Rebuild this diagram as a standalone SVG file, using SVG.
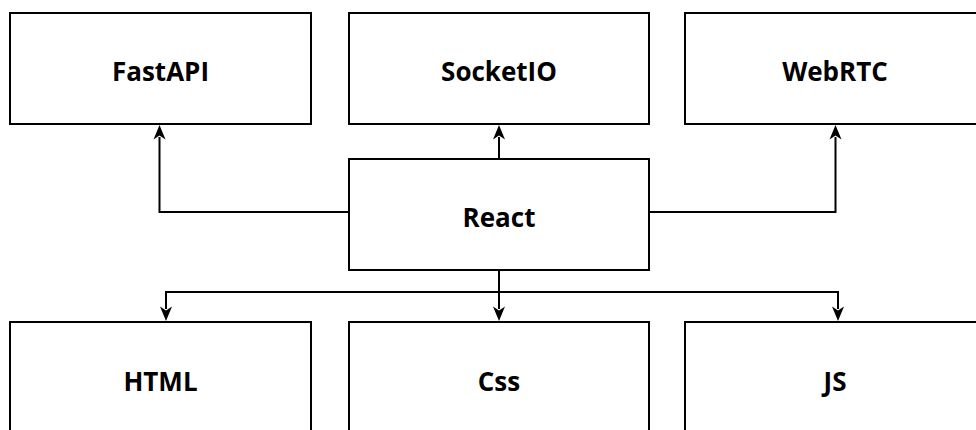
<svg xmlns="http://www.w3.org/2000/svg" width="976" height="430" viewBox="0 0 976 430">
  <style>
    .box { fill: #ffffff; stroke: #000000; stroke-width: 2; }
    .label { font-family: "Open Sans", "Liberation Sans", sans-serif; font-weight: 700; font-size: 26px; fill: #000000; text-anchor: middle; }
    .link { fill: none; stroke: #000000; stroke-width: 2; marker-end: url(#arrow); }
    .trunk { fill: none; stroke: #000000; stroke-width: 2; }
  </style>
  <defs>
    <!-- notched arrowhead; the line stops at the notch, the tip sits 12px ahead -->
    <marker id="arrow" markerUnits="userSpaceOnUse" viewBox="-4 -8 17 16" refX="0" refY="0" markerWidth="17" markerHeight="16" orient="auto">
      <path d="M12,0 L-2.5,-6 L1.5,0 L-2.5,6 Z" fill="#000000"/>
    </marker>
  </defs>

  <g id="connectors">
    <!-- React to the top row -->
    <path class="link" d="M349,212 H159.5 V137"/>
    <path class="link" d="M499,159 V137"/>
    <path class="link" d="M649,212 H835.5 V137"/>
    <!-- React to the bottom row -->
    <path class="trunk" d="M499,270 V292"/>
    <path class="link" d="M499,292 H166 V309"/>
    <path class="link" d="M499,292 V309"/>
    <path class="link" d="M499,292 H838 V309"/>
  </g>

  <g id="node-fastapi">
    <rect class="box" x="10" y="13" width="301" height="111"/>
    <text class="label" x="160.5" y="81">FastAPI</text>
  </g>
  <g id="node-socketio">
    <rect class="box" x="349" y="13" width="300" height="111"/>
    <text class="label" x="499" y="81">SocketIO</text>
  </g>
  <g id="node-webrtc">
    <rect class="box" x="685" y="13" width="300" height="111"/>
    <text class="label" x="835" y="81">WebRTC</text>
  </g>
  <g id="node-react">
    <rect class="box" x="349" y="159" width="300" height="111"/>
    <text class="label" x="499" y="227">React</text>
  </g>
  <g id="node-html">
    <rect class="box" x="10" y="322" width="301" height="111"/>
    <text class="label" x="160.5" y="391">HTML</text>
  </g>
  <g id="node-css">
    <rect class="box" x="349" y="322" width="300" height="111"/>
    <text class="label" x="499" y="391">Css</text>
  </g>
  <g id="node-js">
    <rect class="box" x="685" y="322" width="300" height="111"/>
    <text class="label" x="835" y="391">JS</text>
  </g>
</svg>
